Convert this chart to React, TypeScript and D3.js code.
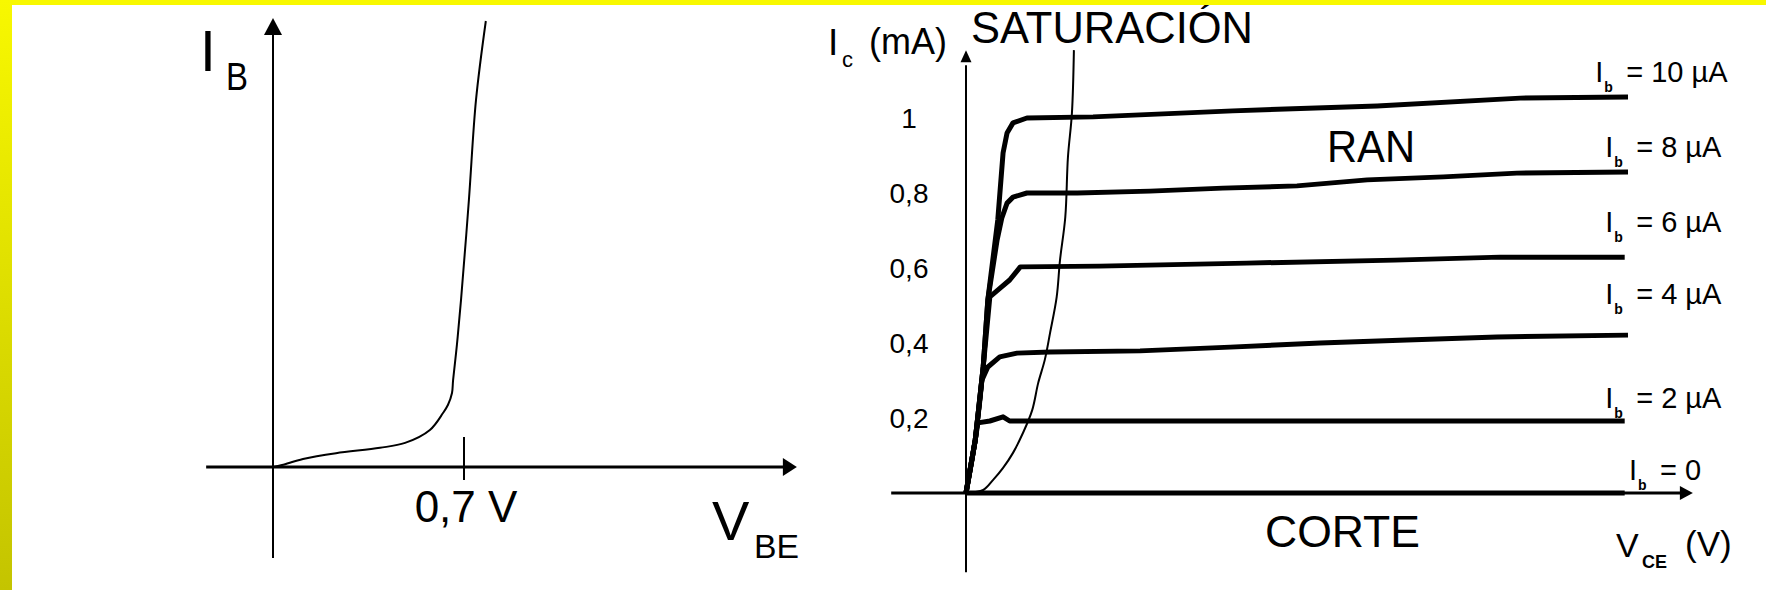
import React from 'react';
import * as d3 from 'd3';

const W = 1766, H = 590;

// entrada: I_B frente a V_BE
const vbe = [0, 0.033, 0.11, 0.231, 0.392, 0.484, 0.575, 0.623, 0.641, 0.656, 0.66, 0.674, 0.689, 0.718, 0.744, 0.78];
const ib = [0, 0.45, 1.8, 3.1, 4.3, 5.4, 8.3, 12.1, 13.9, 16.6, 19.5, 27.4, 37.4, 59.9, 82.3, 100];
const vbeTick = 0.7;
const vbeTickLabel = '0,7 V';

// salida: I_C (mA) frente a V_CE, una curva por I_B
const vce10 = [0, 0.14, 0.26, 0.33, 0.48, 0.56, 0.62, 0.71, 0.92, 1.92, 4.03, 6.21, 8.37, 10];
const ic10 = [0, 0.141, 0.336, 0.515, 0.728, 0.907, 0.96, 0.987, 1.0, 1.003, 1.019, 1.032, 1.053, 1.056];
const vce8 = [0, 0.14, 0.26, 0.33, 0.47, 0.54, 0.62, 0.71, 0.92, 1.68, 2.78, 3.88, 5.0, 6.06, 7.21, 8.32, 10];
const ic8 = [0, 0.141, 0.336, 0.515, 0.675, 0.733, 0.773, 0.789, 0.8, 0.8, 0.805, 0.813, 0.819, 0.835, 0.843, 0.853, 0.856];
const vce6 = [0, 0.14, 0.26, 0.36, 0.48, 0.66, 0.82, 2.02, 4.24, 6.48, 8.07, 9.95];
const ic6 = [0, 0.141, 0.336, 0.523, 0.541, 0.568, 0.603, 0.605, 0.613, 0.621, 0.629, 0.629];
const vce4 = [0, 0.14, 0.21, 0.24, 0.33, 0.51, 0.77, 1.27, 2.63, 3.99, 5.35, 6.66, 8.02, 10];
const ic4 = [0, 0.141, 0.248, 0.301, 0.336, 0.363, 0.373, 0.376, 0.379, 0.389, 0.4, 0.408, 0.416, 0.421];
const vce2 = [0, 0.09, 0.18, 0.36, 0.56, 0.66, 9.95];
const ic2 = [0, 0.088, 0.187, 0.192, 0.203, 0.192, 0.192];
const vce0 = [0, 9.95];
const ic0 = [0, 0];

const ibNames = ['10 µA', '8 µA', '6 µA', '4 µA', '2 µA', '0'];
const labelVce = [9.55, 9.7, 9.7, 9.7, 9.7, 10.06];
const labelIc = [1.096, 0.896, 0.696, 0.504, 0.227, 0.035];

// límite de saturación
const vceSat = [0.02, 0.26, 0.41, 0.56, 0.71, 0.86, 1.0, 1.09, 1.19, 1.27, 1.37, 1.42, 1.5, 1.54, 1.6, 1.63];
const icSat = [0, 0.008, 0.035, 0.067, 0.107, 0.16, 0.221, 0.293, 0.355, 0.427, 0.523, 0.621, 0.736, 0.896, 1.013, 1.181];

const icTicks = [0.2, 0.4, 0.6, 0.8, 1];
const icTickLabels = ['0,2', '0,4', '0,6', '0,8', '1'];

const FONT = '"Liberation Sans", Arial, sans-serif';

export default function App() {
  const xL = d3.scaleLinear().domain([0, 0.7]).range([273, 464]);
  const yL = d3.scaleLinear().domain([0, 100]).range([467, 21]);
  const xR = d3.scaleLinear().domain([0, 10]).range([966, 1628]);
  const yR = d3.scaleLinear().domain([0, 1]).range([493, 118]);

  const lineL = d3.line<number>().x(i => xL(vbe[i])).y(i => yL(ib[i])).curve(d3.curveCatmullRom);
  const lineR = d3.line<[number, number]>().x(d => xR(d[0])).y(d => yR(d[1]));
  const satLine = d3.line<[number, number]>().x(d => xR(d[0])).y(d => yR(d[1])).curve(d3.curveCatmullRom);

  const curves = [[vce10, ic10], [vce8, ic8], [vce6, ic6], [vce4, ic4], [vce2, ic2], [vce0, ic0]]
    .map(([xs, ys]) => xs.map((x, i) => [x, ys[i]] as [number, number]));

  // ejes izquierda
  const lx0 = xL(0), ly0 = yL(0);
  const lyTip = yL(100.7);
  const lxTip = xL(1.92);
  // ejes derecha
  const rx0 = xR(0), ry0 = yR(0);
  const ryTip = yR(1.181);
  const rxTip = xR(10.98);

  return (
    <svg width={W} height={H} style={{ position: 'absolute', left: 0, top: 0 }} fontFamily={FONT}>
      <defs>
        <linearGradient id="side" x1="0" y1="0" x2="0" y2="1">
          <stop offset="0" stopColor="#f8f800" />
          <stop offset="1" stopColor="#c4c400" />
        </linearGradient>
      </defs>
      <rect width={W} height={H} fill="#fff" />

      {/* gráfica de entrada */}
      <g>
        <line x1={lx0} x2={lx0} y1={yL(-20.4)} y2={lyTip + 15} stroke="#000" strokeWidth={2} />
        <path d={`M${lx0},${lyTip}L${lx0 + 9},${lyTip + 17}L${lx0 - 9},${lyTip + 17}Z`} fill="#000" />
        <line x1={xL(-0.245)} x2={lxTip - 10} y1={ly0} y2={ly0} stroke="#000" strokeWidth={3} />
        <path d={`M${lxTip},${ly0}L${lxTip - 14},${ly0 - 9}L${lxTip - 14},${ly0 + 9}Z`} fill="#000" />
        <line x1={xL(vbeTick)} x2={xL(vbeTick)} y1={ly0 - 30} y2={ly0 + 13} stroke="#000" strokeWidth={2} />
        <path d={lineL(d3.range(vbe.length)) || ''} fill="none" stroke="#000" strokeWidth={2} />
        <text x={xL(vbeTick) + 2} y={522} fontSize={44} textAnchor="middle">{vbeTickLabel}</text>
        <text x={200} y={71} fontSize={57}>I</text>
        <text x={226} y={90} fontSize={38} textLength={22} lengthAdjust="spacingAndGlyphs">B</text>
        <text x={712} y={540} fontSize={56}>V</text>
        <text x={754} y={558} fontSize={34} textLength={45} lengthAdjust="spacingAndGlyphs">BE</text>
      </g>

      {/* gráfica de salida */}
      <g>
        <line x1={rx0} x2={rx0} y1={yR(-0.211)} y2={yR(1.141)} stroke="#000" strokeWidth={2} />
        <path d={`M${rx0},${ryTip}L${rx0 + 5.5},${ryTip + 12}L${rx0 - 5.5},${ryTip + 12}Z`} fill="#000" />
        <line x1={xR(-1.13)} x2={rxTip - 8} y1={ry0} y2={ry0} stroke="#000" strokeWidth={3} />
        <path d={`M${rxTip},${ry0}L${rxTip - 13},${ry0 - 7}L${rxTip - 13},${ry0 + 7}Z`} fill="#000" />
        {curves.map((c, i) => (
          <path key={i} d={lineR(c) || ''} fill="none" stroke="#000" strokeWidth={5} strokeLinejoin="round" />
        ))}
        <path d={satLine(vceSat.map((v, i) => [v, icSat[i]] as [number, number])) || ''} fill="none" stroke="#000" strokeWidth={2} />
        {icTicks.map((t, i) => (
          <text key={t} x={rx0 - 57} y={yR(t) + 10} fontSize={28} textAnchor="middle">{icTickLabels[i]}</text>
        ))}
        {ibNames.map((n, i) => {
          const x = xR(labelVce[i]), y = yR(labelIc[i]);
          return (
            <g key={n}>
              <text x={x - 3} y={y} fontSize={29}>I</text>
              <text x={x + 6} y={y + 10} fontSize={14} fontWeight="bold">b</text>
              <text x={x + 28} y={y} fontSize={29}>= {n}</text>
            </g>
          );
        })}
        <text x={828} y={55} fontSize={37}>I</text>
        <text x={842} y={67} fontSize={22}>c</text>
        <text x={869} y={54} fontSize={36}>(mA)</text>
        <text x={971} y={43} fontSize={44} textLength={282} lengthAdjust="spacingAndGlyphs">SATURACIÓN</text>
        <text x={1327} y={162} fontSize={44} textLength={88} lengthAdjust="spacingAndGlyphs">RAN</text>
        <text x={1265} y={547} fontSize={44} textLength={155} lengthAdjust="spacingAndGlyphs">CORTE</text>
        <text x={1616} y={557} fontSize={34}>V</text>
        <text x={1642} y={568} fontSize={18} fontWeight="bold">CE</text>
        <text x={1685} y={556} fontSize={35}>(V)</text>
      </g>

      <rect x={0} y={0} width={W} height={5} fill="#f8f800" />
      <rect x={0} y={0} width={12} height={H} fill="url(#side)" />
    </svg>
  );
}
